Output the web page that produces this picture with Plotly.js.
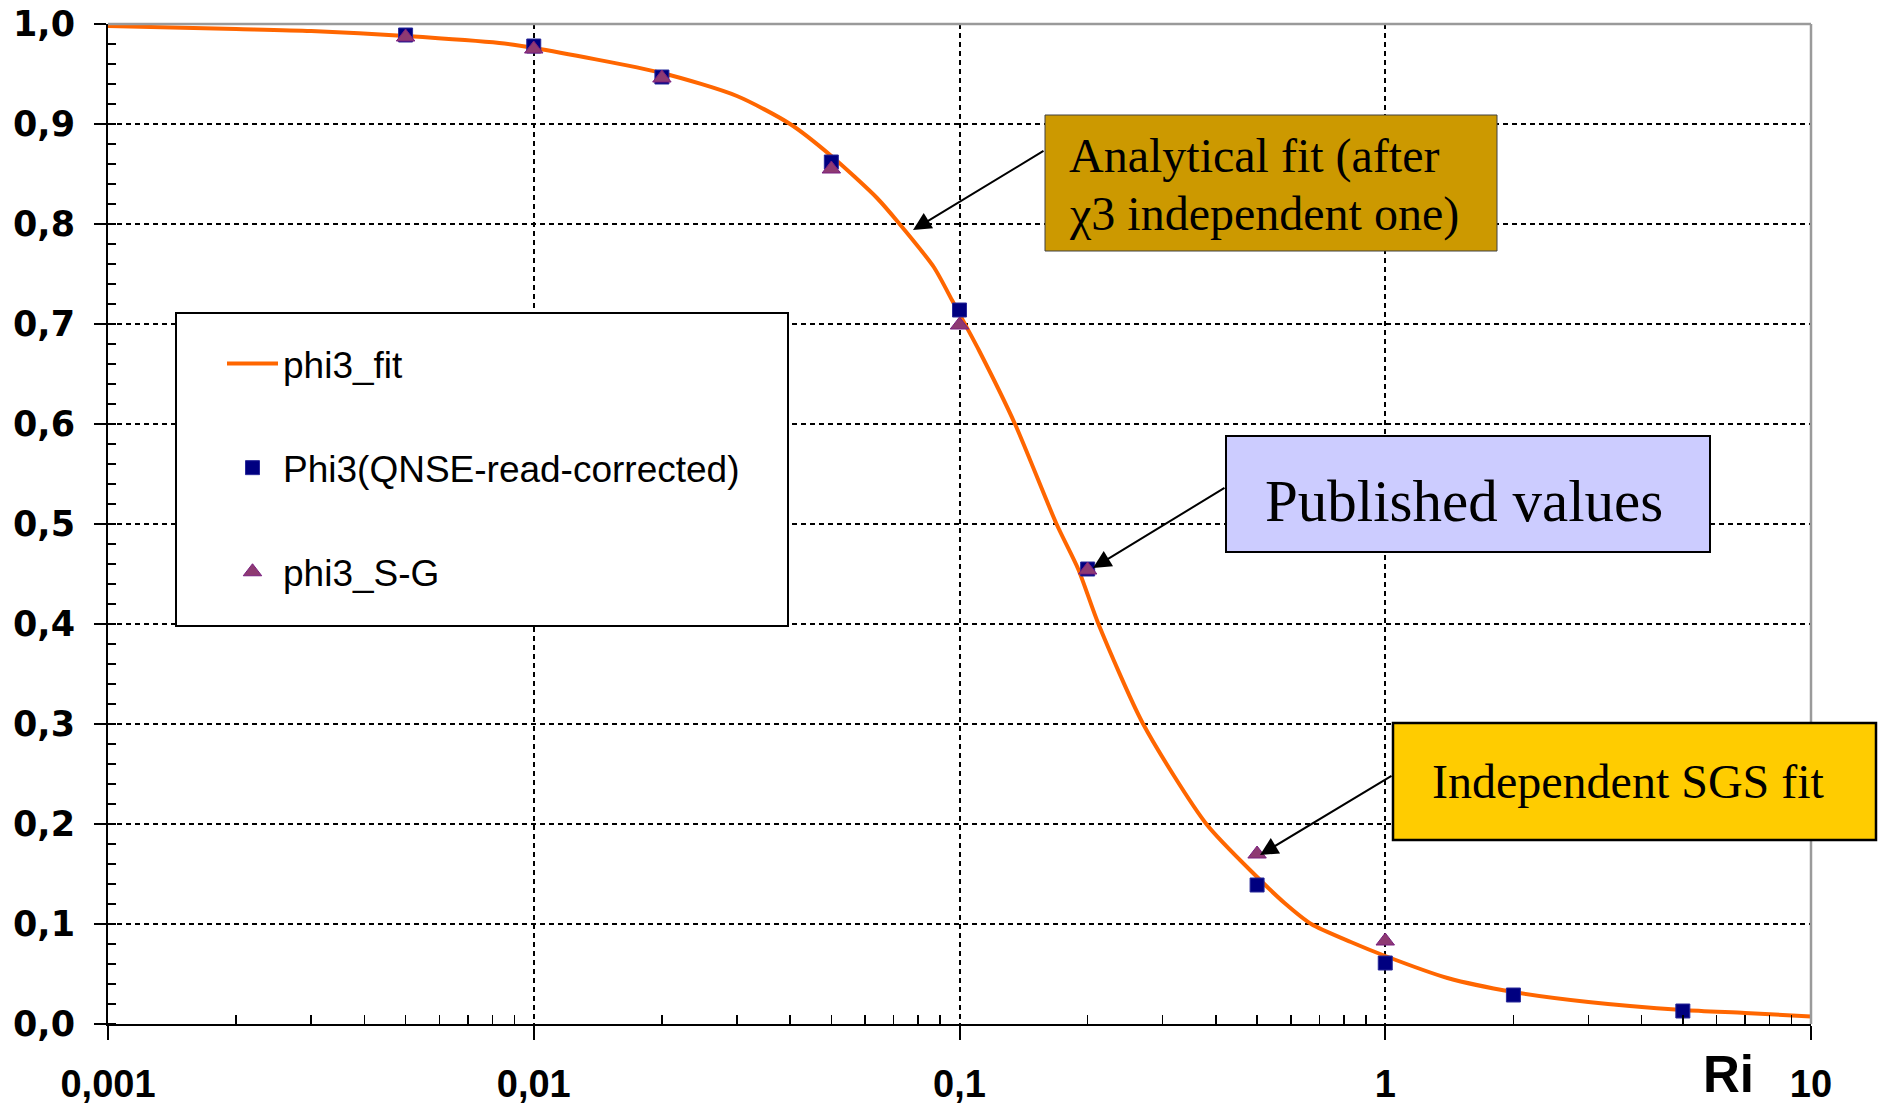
<!DOCTYPE html>
<html>
<head>
<meta charset="utf-8">
<script src="https://cdn.plot.ly/plotly-3.0.1.min.js"></script>
<style>html,body{margin:0;padding:0;background:#fff;}#chart{width:1878px;height:1109px;}</style>
</head>
<body>
<div id="chart"></div>
<script>
// ---- data ----
const fitRi   = [0.001,0.002,0.003,0.005,0.0083,0.01,0.02,0.03,0.04,0.05,0.064,0.072,0.087,0.096,0.1,0.111,0.135,0.169,0.19,0.212,0.27,0.38,0.5,0.58,0.67,0.83,1,1.4,2,3,5,7,10];
const fitPhi3 = [0.998,0.995,0.993,0.988,0.981,0.976,0.951,0.928,0.900,0.868,0.826,0.801,0.757,0.724,0.71,0.674,0.600,0.500,0.455,0.400,0.300,0.200,0.147,0.121,0.100,0.082,0.068,0.046,0.032,0.022,0.014,0.011,0.0075];

const qnseRi   = [0.005,0.01,0.02,0.05,0.1,0.2,0.5,1,2,5];
const qnsePhi3 = [0.989,0.978,0.947,0.862,0.714,0.455,0.139,0.061,0.029,0.013];

const sgRi   = [0.005,0.01,0.02,0.05,0.1,0.2,0.5,1];
const sgPhi3 = [0.987,0.975,0.946,0.855,0.699,0.454,0.170,0.083];

const xTickVals = [0.001,0.01,0.1,1,10];
const xTickText = ['0,001','0,01','0,1','1','10'];

const seriesNames = ['phi3_fit','Phi3(QNSE-read-corrected)','phi3_S-G'];
const callouts = ['Analytical fit (after','\u03c73 independent one)','Published values','Independent SGS fit'];
const axisLabel = 'Ri';

// ---- layout helpers (pixel -> paper) ----
const W = 1878, H = 1109;
const L = 108, R = 1811, T = 24, B = 1024;
const PX = p => (p - L) / (R - L);
const PY = p => (B - p) / (B - T);

const minorVals = [];
for (let d = -3; d < 1; d++) for (let k = 2; k <= 9; k++) minorVals.push(k * Math.pow(10, d));

const sans = 'Liberation Sans, Arial, sans-serif';
const serif = 'Liberation Serif, Times New Roman, serif';

const traces = [
  {x: fitRi, y: fitPhi3, name: seriesNames[0], type: 'scatter', mode: 'lines',
   line: {color: '#FF6600', width: 4, shape: 'spline', smoothing: 0.7}, legendgroup: 'a'},
  {x: qnseRi, y: qnsePhi3, name: seriesNames[1], type: 'scatter', mode: 'markers',
   marker: {symbol: 'square', size: 14, color: '#000080', line: {color: '#2a2a9a', width: 1}}, legendgroup: 'b'},
  {x: sgRi, y: sgPhi3, name: seriesNames[2], type: 'scatter', mode: 'markers',
   marker: {symbol: 'triangle-up', size: 16, color: '#8E3A72', line: {color: '#7a1f80', width: 1}}, legendgroup: 'c'}
];

const layout = {
  width: W, height: H,
  margin: {l: L, r: W - R, t: T, b: H - B, pad: 0},
  paper_bgcolor: '#ffffff', plot_bgcolor: '#ffffff',
  separators: ', ',
  showlegend: true,
  legend: {
    x: PX(222), y: PY(333), xanchor: 'left', yanchor: 'top',
    bgcolor: 'rgba(0,0,0,0)', borderwidth: 0,
    font: {family: sans, size: 37, color: '#000'},
    tracegroupgap: 53, itemwidth: 51
  },
  xaxis: {
    type: 'log', range: [-3, 1],
    tickmode: 'array', tickvals: xTickVals, ticktext: xTickText,
    ticks: 'outside', ticklen: 14, tickwidth: 2, tickcolor: '#000',
    showline: true, linecolor: '#000', linewidth: 2,
    showgrid: true, gridcolor: '#000', gridwidth: 2, griddash: '5px,4px',
    zeroline: false,
    tickfont: {family: sans, size: 38, color: '#000', weight: 'bold'},
    ticklabelstandoff: 11,
    minor: {tickmode: 'array', tickvals: minorVals, ticks: 'inside', ticklen: 9, tickwidth: 1.5, tickcolor: '#000', showgrid: false}
  },
  yaxis: {
    range: [0, 1], dtick: 0.1, tick0: 0, tickformat: '.1f',
    ticks: 'outside', ticklen: 12, tickwidth: 2, tickcolor: '#000',
    showline: true, linecolor: '#000', linewidth: 2,
    showgrid: true, gridcolor: '#000', gridwidth: 2, griddash: '5px,4px',
    zeroline: false,
    tickfont: {family: 'DejaVu Sans, sans-serif', size: 35, color: '#000', weight: 'bold'},
    ticklabelstandoff: 12,
    minor: {dtick: 0.02, ticks: 'inside', ticklen: 8, tickwidth: 1.5, tickcolor: '#000', showgrid: false}
  },
  shapes: [
    // gray top and right frame
    {type: 'line', xref: 'paper', yref: 'paper', x0: 0, x1: 1, y0: 1, y1: 1, line: {color: '#9a9a9a', width: 2.5}, layer: 'above'},
    {type: 'line', xref: 'paper', yref: 'paper', x0: 1, x1: 1, y0: 0, y1: 1, line: {color: '#9a9a9a', width: 2.5}, layer: 'above'},
    // legend frame
    {type: 'rect', xref: 'paper', yref: 'paper', x0: PX(176), x1: PX(788), y0: PY(626), y1: PY(313),
     fillcolor: '#ffffff', line: {color: '#000', width: 2}, layer: 'above'},
    // callout boxes
    {type: 'rect', xref: 'paper', yref: 'paper', x0: PX(1045), x1: PX(1497), y0: PY(251), y1: PY(115),
     fillcolor: '#CC9900', line: {color: '#404040', width: 1}, layer: 'above'},
    {type: 'rect', xref: 'paper', yref: 'paper', x0: PX(1226), x1: PX(1710), y0: PY(552), y1: PY(436),
     fillcolor: '#CCCCFF', line: {color: '#000', width: 2}, layer: 'above'},
    {type: 'rect', xref: 'paper', yref: 'paper', x0: PX(1393), x1: PX(1876), y0: PY(840), y1: PY(723),
     fillcolor: '#FFCC00', line: {color: '#000', width: 2.5}, layer: 'above'}
  ],
  annotations: [
    {text: callouts[0], xref: 'paper', yref: 'paper', x: PX(1067), y: PY(156), xanchor: 'left', yanchor: 'middle',
     showarrow: false, font: {family: serif, size: 48, color: '#000'}},
    {text: callouts[1], xref: 'paper', yref: 'paper', x: PX(1067), y: PY(214), xanchor: 'left', yanchor: 'middle',
     showarrow: false, font: {family: serif, size: 48, color: '#000'}},
    {text: callouts[2], xref: 'paper', yref: 'paper', x: PX(1263), y: PY(501), xanchor: 'left', yanchor: 'middle',
     showarrow: false, font: {family: serif, size: 59, color: '#000'}},
    {text: callouts[3], xref: 'paper', yref: 'paper', x: PX(1430), y: PY(781), xanchor: 'left', yanchor: 'middle',
     showarrow: false, font: {family: serif, size: 48, color: '#000'}},
    // arrows
    {text: '', xref: 'paper', yref: 'paper', x: PX(913), y: PY(230), ax: 132, ay: -80,
     showarrow: true, arrowhead: 2, arrowsize: 1.8, arrowwidth: 2, arrowcolor: '#000', standoff: 0},
    {text: '', xref: 'paper', yref: 'paper', x: PX(1093), y: PY(568), ax: 133, ay: -81,
     showarrow: true, arrowhead: 2, arrowsize: 1.8, arrowwidth: 2, arrowcolor: '#000', standoff: 0},
    {text: '', xref: 'paper', yref: 'paper', x: PX(1260), y: PY(855), ax: 133, ay: -80,
     showarrow: true, arrowhead: 2, arrowsize: 1.8, arrowwidth: 2, arrowcolor: '#000', standoff: 0},
    // axis label
    {text: axisLabel, xref: 'paper', yref: 'paper', x: PX(1728), y: PY(1074), xanchor: 'center', yanchor: 'middle',
     showarrow: false, font: {family: sans, size: 51, color: '#000', weight: 'bold'}}
  ]
};

Plotly.newPlot('chart', traces, layout, {displayModeBar: false, staticPlot: true});
</script>
</body>
</html>
